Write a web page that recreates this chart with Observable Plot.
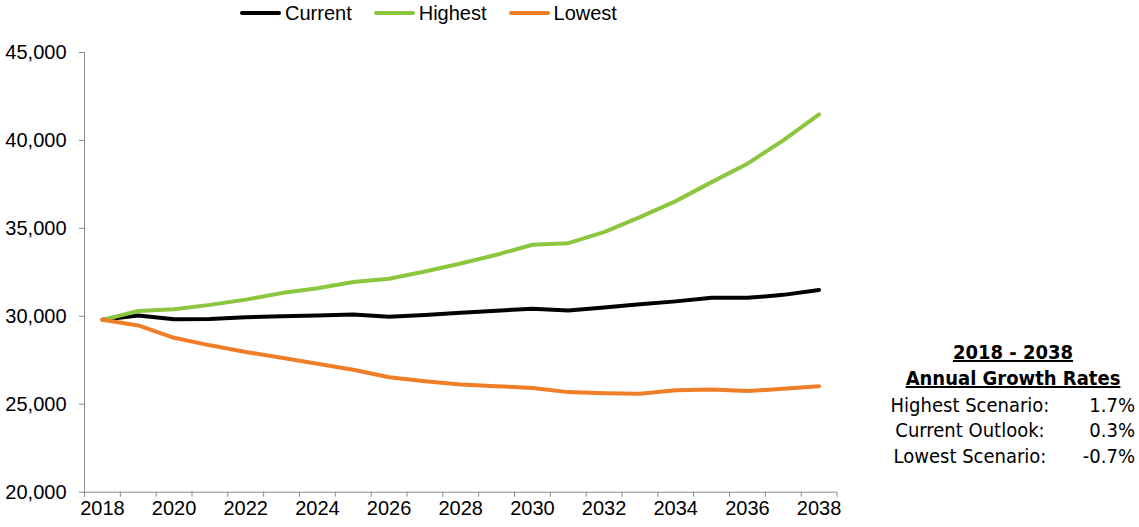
<!DOCTYPE html>
<html><head><meta charset="utf-8">
<script src="https://cdn.jsdelivr.net/npm/d3@7"></script>
<script src="https://cdn.jsdelivr.net/npm/@observablehq/plot@0.6"></script>
<style>
body{margin:0;background:#fff;}
#wrap{position:relative;width:1139px;height:527px;overflow:hidden;background:#fff;}
#wrap svg{position:absolute;left:0;top:0;overflow:visible;}
.legend{position:absolute;left:240px;top:2px;display:flex;gap:22px;font-family:"Liberation Sans",Arial,sans-serif;font-size:20px;line-height:22px;color:#000;}
.legend .item{display:flex;align-items:center;}
.legend .sw{display:inline-block;width:41px;height:4px;margin-right:4px;border-radius:2px;}
.note{position:absolute;font-family:"DejaVu Sans Condensed","DejaVu Sans",sans-serif;font-size:20px;line-height:26px;color:#000;font-stretch:condensed;white-space:nowrap;}
.note.title{font-weight:bold;text-decoration:underline;text-align:center;width:260px;left:883px;}
.note.lab{text-align:center;width:200px;left:870px;}
.note.val{text-align:right;width:80px;left:1055px;}
</style></head><body><div id="wrap"></div>
<script>
const years = d3.range(2018, 2039);
const current = [29800, 30050, 29830, 29850, 29950, 30000, 30050, 30100, 29980, 30080, 30200, 30320, 30430, 30330, 30500, 30680, 30850, 31050, 31050, 31220, 31500];
const highest = [29800, 30300, 30400, 30650, 30950, 31320, 31600, 31950, 32140, 32550, 33000, 33500, 34070, 34160, 34790, 35640, 36550, 37630, 38680, 40000, 41480];
const lowest  = [29800, 29480, 28780, 28350, 27970, 27650, 27300, 26960, 26540, 26310, 26120, 26030, 25920, 25690, 25630, 25600, 25790, 25840, 25750, 25880, 26030];
const seriesNames = ["Current", "Highest", "Lowest"];
const seriesColors = ["#000000", "#8cc63f", "#f07e26"];
const yTicks = [20000, 25000, 30000, 35000, 40000, 45000];
const xLabelYears = [2018, 2020, 2022, 2024, 2026, 2028, 2030, 2032, 2034, 2036, 2038];
const tableTitles = ["2018 - 2038", "Annual Growth Rates"];
const growthLabels = ["Highest Scenario:", "Current Outlook:", "Lowest Scenario:"];
const growthRates = ["1.7%", "0.3%", "-0.7%"];

const seriesValues = [current, highest, lowest];
const data = [];
seriesNames.forEach((s, i) => years.forEach((y, j) => data.push({series: s, year: y, value: seriesValues[i][j]})));
const boundaries = d3.range(years[0] - 0.5, years[years.length - 1] + 1, 1);

const axisFont = '"Liberation Sans",Arial,sans-serif';
const chart = Plot.plot({
  width: 1139, height: 527,
  marginLeft: 84, marginRight: 302.5, marginTop: 52, marginBottom: 35.3,
  x: {domain: [years[0] - 0.5, years[years.length - 1] + 0.5]},
  y: {domain: [20000, 45000]},
  color: {domain: seriesNames, range: seriesColors},
  style: {fontFamily: axisFont, fontSize: "20px", color: "#000", background: "transparent", overflow: "visible"},
  marks: [
    Plot.axisY({ticks: yTicks, tickFormat: d3.format(","), tickSize: 5, tickPadding: 13, stroke: "#8c8c8c", label: null, fontSize: 20}),
    Plot.axisX({ticks: boundaries, tickFormat: () => "", tickSize: 5, stroke: "#8c8c8c", label: null}),
    Plot.axisX({ticks: xLabelYears, tickFormat: d => String(d), tickSize: 0, tickPadding: 9, label: null, fontSize: 20}),
    Plot.ruleY([20000], {stroke: "#8c8c8c", strokeWidth: 1}),
    Plot.ruleX([years[0] - 0.5], {stroke: "#8c8c8c", strokeWidth: 1}),
    Plot.line(data, {x: "year", y: "value", z: "series", stroke: "series", strokeWidth: 4, strokeLinejoin: "round", strokeLinecap: "round"})
  ]
});
const wrap = document.getElementById("wrap");
wrap.appendChild(chart);

const legend = document.createElement("div");
legend.className = "legend";
seriesNames.forEach((s, i) => {
  const it = document.createElement("div"); it.className = "item";
  const sw = document.createElement("span"); sw.className = "sw"; sw.style.background = seriesColors[i];
  const tx = document.createElement("span"); tx.textContent = s;
  it.appendChild(sw); it.appendChild(tx); legend.appendChild(it);
});
wrap.appendChild(legend);

const titleTops = [339, 365];
tableTitles.forEach((t, i) => {
  const d = document.createElement("div"); d.className = "note title"; d.style.top = titleTops[i] + "px"; d.textContent = t; wrap.appendChild(d);
});
const rowTops = [392, 417, 443];
growthLabels.forEach((t, i) => {
  const a = document.createElement("div"); a.className = "note lab"; a.style.top = rowTops[i] + "px"; a.textContent = t; wrap.appendChild(a);
  const b = document.createElement("div"); b.className = "note val"; b.style.top = rowTops[i] + "px"; b.textContent = growthRates[i]; wrap.appendChild(b);
});
</script></body></html>
